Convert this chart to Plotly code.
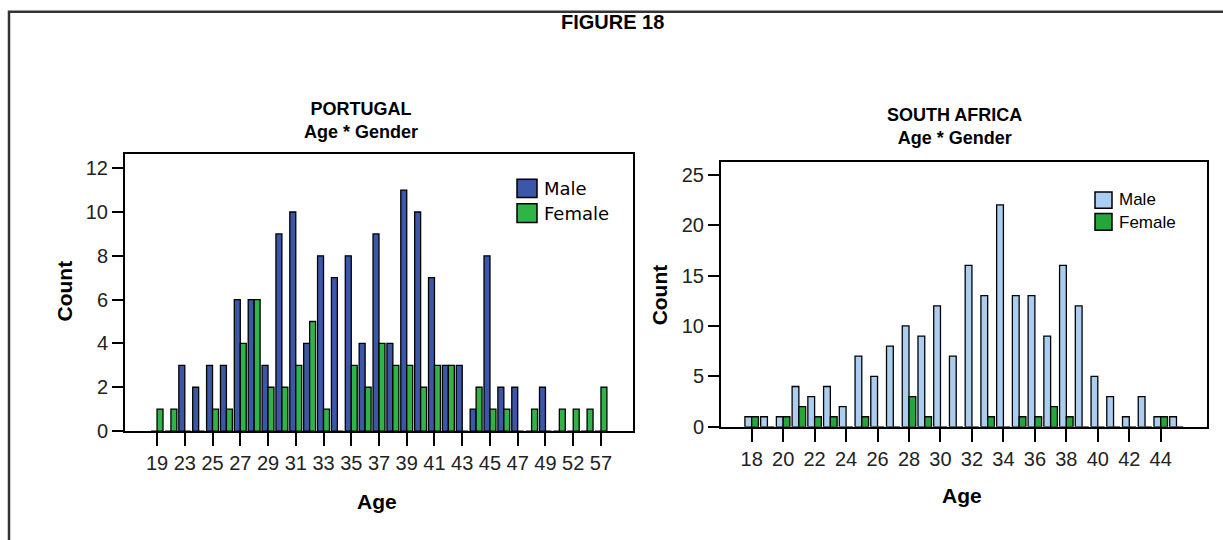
import plotly.graph_objects as go

W, H = 1223, 540

# Portugal: counts by age and gender
pt_ages = ["19", "22", "23", "24", "25", "26", "27", "28", "29", "30", "31", "32",
           "33", "34", "35", "36", "37", "38", "39", "40", "41", "42", "43", "44",
           "45", "46", "47", "48", "49", "50", "52", "54", "57"]
pt_male = [0, 0, 3, 2, 3, 3, 6, 6, 3, 9, 10, 4, 8, 7, 8, 4, 9, 4, 11, 10, 7, 3, 3, 1,
           8, 2, 2, 0, 2, 0, 0, 0, 0]
pt_female = [1, 1, 0, 0, 1, 1, 4, 6, 2, 2, 3, 5, 1, 0, 3, 2, 4, 3, 3, 2, 3, 3, 0, 2,
             1, 1, 0, 1, 0, 1, 1, 1, 2]
pt_ticks = ["19", "23", "25", "27", "29", "31", "33", "35", "37", "39", "41", "43",
            "45", "47", "49", "52", "57"]

# South Africa: counts by age and gender
sa_ages = list(range(18, 46))
sa_male = [1, 1, 1, 4, 3, 4, 2, 7, 5, 8, 10, 9, 12, 7, 16, 13, 22, 13, 13, 9, 16, 12,
           5, 3, 1, 3, 1, 1]
sa_female = [1, 0, 1, 2, 1, 1, 0, 1, 0, 0, 3, 1, 0, 0, 0, 1, 0, 1, 1, 2, 1, 0,
             0, 0, 0, 0, 1, 0]
sa_ticks = list(range(18, 45, 2))

PT_MALE_C = "rgb(60,86,168)"
PT_FEMALE_C = "rgb(48,180,72)"
SA_MALE_C = "rgb(170,205,240)"
SA_FEMALE_C = "rgb(36,166,58)"

FONT = "Liberation Sans, Arial, sans-serif"


def px(x):
    return x / W


def py(y):
    return 1 - y / H


fig = go.Figure()

outline = dict(color="black", width=1.3)
fig.add_trace(go.Bar(x=pt_ages, y=pt_male, name="Male", marker=dict(color=PT_MALE_C, line=outline),
                     xaxis="x", yaxis="y", showlegend=False))
fig.add_trace(go.Bar(x=pt_ages, y=pt_female, name="Female", marker=dict(color=PT_FEMALE_C, line=outline),
                     xaxis="x", yaxis="y", showlegend=False))
fig.add_trace(go.Bar(x=sa_ages, y=sa_male, name="Male", marker=dict(color=SA_MALE_C, line=outline),
                     xaxis="x2", yaxis="y2", showlegend=False))
fig.add_trace(go.Bar(x=sa_ages, y=sa_female, name="Female", marker=dict(color=SA_FEMALE_C, line=outline),
                     xaxis="x2", yaxis="y2", showlegend=False))

axis_common = dict(showgrid=False, zeroline=False, showline=True, linecolor="black",
                   linewidth=2, mirror=True, ticks="outside", ticklen=11, tickwidth=2,
                   tickcolor="black", tickfont=dict(family=FONT, size=20, color="#222"))

n_pt = len(pt_ages)
fig.update_layout(
    width=W, height=H, autosize=False,
    margin=dict(l=0, r=0, t=0, b=0),
    paper_bgcolor="white", plot_bgcolor="white",
    barmode="group", bargap=0.14, bargroupgap=0,
    xaxis=dict(axis_common, domain=[px(125), px(633)], anchor="y", type="category",
               categoryorder="array", categoryarray=pt_ages,
               range=[-2.31, n_pt - 1 + 2.31], tickmode="array", tickvals=pt_ticks,
               ticktext=pt_ticks, ticklen=13),
    yaxis=dict(axis_common, domain=[py(440), py(157.5)], anchor="x",
               range=[0, 12.635], tickmode="array", tickvals=list(range(0, 13, 2))),
    xaxis2=dict(axis_common, domain=[px(721), px(1207)], anchor="y2",
                range=[sa_ages[0] - 1.95, sa_ages[0] + 28.94], tickmode="array",
                tickvals=sa_ticks, ticktext=[str(t) for t in sa_ticks], ticklen=13),
    yaxis2=dict(axis_common, domain=[py(435.7), py(165)], anchor="x2",
                range=[0, 26.29], tickmode="array", tickvals=list(range(0, 26, 5))),
)

annotations = []


def text(x, y, s, size, bold=True, angle=0, family=FONT, xanchor="center"):
    annotations.append(dict(x=px(x), y=py(y), xref="paper", yref="paper", text=s,
                            showarrow=False, textangle=angle, xanchor=xanchor,
                            yanchor="middle",
                            font=dict(family=family, size=size, color="black",
                                      weight="bold" if bold else "normal")))


text(612, 22, "FIGURE 18", 20, family="Liberation Sans Narrow, Arial Narrow, Liberation Sans")
text(361, 122.5, "PORTUGAL<br>Age * Gender", 18)
text(954, 129, "SOUTH AFRICA<br>Age * Gender", 18)
text(64.5, 297, "Count", 21, angle=-90)
text(659.5, 301, "Count", 21, angle=-90)
text(377, 512, "Age", 21)
text(962, 506, "Age", 21)

# legend entries
text(541.7, 192.5, "Male", 18, bold=False, family="DejaVu Sans", xanchor="left")
text(541.7, 217.5, "Female", 18, bold=False, family="DejaVu Sans", xanchor="left")
text(1117, 204, "Male", 17, bold=False, xanchor="left")
text(1117, 227, "Female", 17, bold=False, xanchor="left")

fig.update_layout(annotations=annotations)


def box(x0, y0, x1, y1, fill, width=1.5, color="black"):
    return dict(type="rect", xref="paper", yref="paper", x0=px(x0), x1=px(x1),
                y0=py(y1), y1=py(y0), fillcolor=fill, line=dict(color=color, width=width))


shapes = [
    box(517, 183, 537, 201.5, PT_MALE_C),
    box(517, 208, 537, 227, PT_FEMALE_C),
    box(1095, 196, 1112, 212.5, SA_MALE_C),
    box(1095, 218, 1112, 235, SA_FEMALE_C),
    box(9, 12, 1240, 560, "rgba(0,0,0,0)", width=2.5, color="#333"),
]
fig.update_layout(shapes=shapes)

fig.write_html("out.html")
